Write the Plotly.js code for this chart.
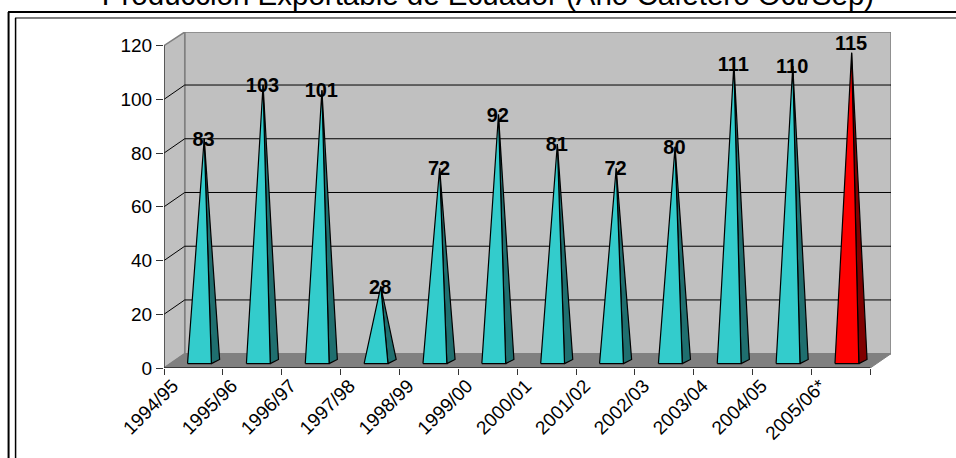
<!DOCTYPE html>
<html>
<head>
<meta charset="utf-8">
<script src="https://cdn.plot.ly/plotly-3.0.1.min.js"></script>
<style>html,body{margin:0;padding:0;background:#fff;overflow:hidden}#chart{width:956px;height:458px}</style>
</head>
<body>
<div id="chart"></div>
<script>
const seasons = ['1994/95','1995/96','1996/97','1997/98','1998/99','1999/00','2000/01','2001/02','2002/03','2003/04','2004/05','2005/06*'];
const production = [83,103,101,28,72,92,81,72,80,111,110,115];
const yTicks = [0,20,40,60,80,100,120];
const chartTitle = 'Producción Exportable de Ecuador (Año Cafetero Oct/Sep)';

// Oblique projection of the box, in axis units
const depthX = 0.352, depthY = 5.33;
const xEnd = 12, yTop = 120;
const xMax = xEnd + depthX, yMax = 125.07;

// Pyramid footprint inside each category slot
const baseLeft = 0.40, baseRight = 0.805, baseBackRight = 0.945;
const baseFrontY = 1.64, baseBackY = 3.17, baseCentreY = 2.38, apexX = 0.683;

const CYAN = '#33CCCC', CYAN_DARK = '#1F6F6F', RED = '#FF0000', RED_DARK = '#800000';
const WALL = '#C0C0C0', FLOOR = '#808080', EDGE = '#808080', INK = '#000000';

function poly(xs, ys, fill, line, width) {
  return {x: xs, y: ys, mode: 'lines', fill: 'toself', fillcolor: fill, cliponaxis: false,
          line: {color: line, width: width}, hoverinfo: 'skip', showlegend: false};
}
function path(xs, ys, color, width) {
  return {x: xs, y: ys, mode: 'lines', cliponaxis: false,
          line: {color: color, width: width}, hoverinfo: 'skip', showlegend: false};
}

const traces = [];
// Walls and floor
traces.push(poly([depthX, xMax, xMax, depthX, depthX], [depthY, depthY, yMax, yMax, depthY], WALL, EDGE, 1.5));
traces.push(poly([0, depthX, depthX, 0, 0], [0, depthY, yMax, yTop, 0], WALL, EDGE, 1.5));
traces.push(poly([0, xEnd, xMax, depthX, 0], [0, 0, depthY, depthY, 0], FLOOR, EDGE, 1));

// Gridlines wrap from the left wall onto the back wall
const gx = [], gy = [];
yTicks.filter(v => v > 0 && v < yTop).forEach(v => {
  gx.push(0, depthX, xMax, null);
  gy.push(v, v + depthY, v + depthY, null);
});
traces.push(path(gx, gy, INK, 1));

// Front axis lines
traces.push(path([0, 0], [0, yTop], '#333333', 1.2));
traces.push(path([0, xEnd], [0, 0], '#222222', 1.5));

// One pyramid per season: side face first, then the front face
production.forEach((v, i) => {
  const last = i === production.length - 1;
  const ax = i + apexX, ay = v + baseCentreY;
  const fl = i + baseLeft, fr = i + baseRight, br = i + baseBackRight;
  traces.push(poly([fr, br, ax, fr], [baseFrontY, baseBackY, ay, baseFrontY], last ? RED_DARK : CYAN_DARK, INK, 1.2));
  traces.push(poly([fl, fr, ax, fl], [baseFrontY, baseFrontY, ay, baseFrontY], last ? RED : CYAN, INK, 1.2));
});

// Value labels sit on the apex; the tallest one rises clear of it
traces.push({
  x: production.map((v, i) => i + apexX - 0.01),
  y: production.map(v => v + baseCentreY - 0.8),
  mode: 'text', cliponaxis: false,
  text: production.map(String),
  textposition: production.map((v, i) => i === production.length - 1 ? 'top center' : 'middle center'),
  textfont: {family: 'Liberation Sans, Arial, sans-serif', size: 20, color: INK, weight: 'bold'},
  hoverinfo: 'skip', showlegend: false
});

// Carries the rotated season labels on the overlaid axis
traces.push({x: [0], y: [0], xaxis: 'x2', mode: 'markers', marker: {opacity: 0}, hoverinfo: 'skip', showlegend: false});

const W = 956, H = 458, mL = 164.3, mR = 65.3, mT = 32, mB = 90.3;
const px = x => (x - mL) / (W - mL - mR);
const py = y => 1 - (y - mT) / (H - mT - mB);
function frameLine(x0, y0, x1, y1, width) {
  return {type: 'line', xref: 'paper', yref: 'paper', x0: px(x0), y0: py(y0), x1: px(x1), y1: py(y1),
          line: {color: INK, width: width}, layer: 'below'};
}

const font = {family: 'Liberation Sans, Arial, sans-serif', color: INK};

const layout = {
  width: W, height: H,
  margin: {l: mL, r: mR, t: mT, b: mB, pad: 0},
  paper_bgcolor: '#fff', plot_bgcolor: 'rgba(0,0,0,0)',
  showlegend: false,
  title: {text: chartTitle, font: {...font, size: 29.5}, x: 488 / W, xanchor: 'center', y: 1 - 5 / H, yanchor: 'bottom'},
  xaxis: {range: [0, xMax], tickvals: seasons.map((s, i) => i).concat(seasons.length), ticktext: seasons.map(() => '').concat(''),
          ticks: 'outside', ticklen: 6, tickwidth: 1, tickcolor: '#333333', showgrid: false, zeroline: false, showline: false, fixedrange: true},
  xaxis2: {overlaying: 'x', anchor: 'y', side: 'bottom', range: [0, xMax], tickvals: seasons.map((s, i) => i + 0.15), ticktext: seasons,
           tickangle: -45, tickfont: {...font, size: 19}, ticks: '', ticklabelstandoff: 2,
           showgrid: false, zeroline: false, showline: false, fixedrange: true},
  yaxis: {range: [0, yMax], tickvals: yTicks, ticktext: yTicks.map(String), tickfont: {...font, size: 19},
          ticks: 'outside', ticklen: 7, tickwidth: 1, tickcolor: '#333333', showgrid: false, zeroline: false, showline: false, fixedrange: true},
  shapes: [
    frameLine(8.5, 12, W, 12, 2),
    frameLine(9, 12, 9, H, 2),
    frameLine(15.5, 18, W, 18, 1),
    frameLine(16, 18, 16, H, 1.5)
  ]
};

Plotly.newPlot('chart', traces, layout, {displayModeBar: false, staticPlot: true});
</script>
</body>
</html>
